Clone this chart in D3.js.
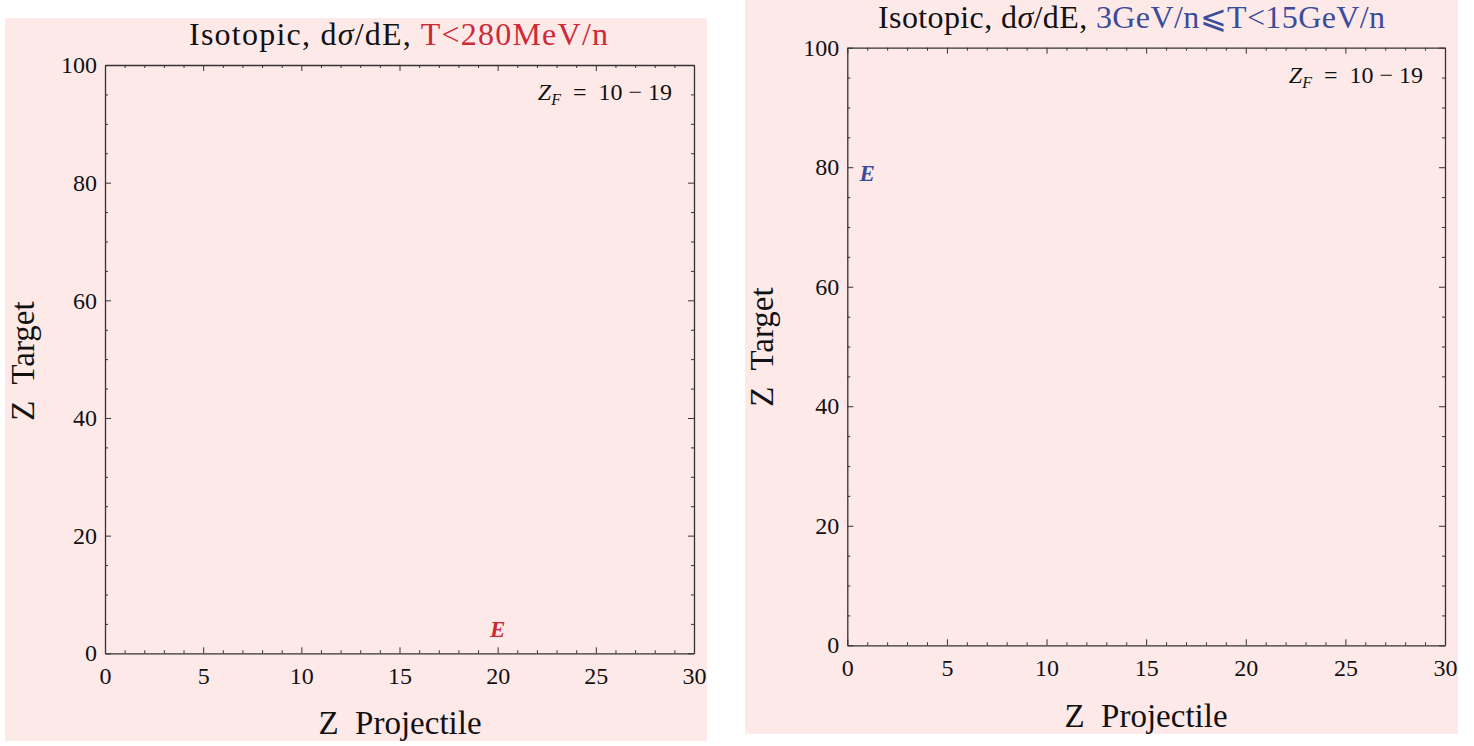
<!DOCTYPE html>
<html><head><meta charset="utf-8">
<script src="https://cdn.jsdelivr.net/npm/d3@7"></script>
<style>body{margin:0;background:#fff}svg{display:block}text{font-family:"Liberation Serif","DejaVu Serif",serif}</style>
</head><body>
<svg id="c" width="1474" height="746"></svg>
<script>
// ---- data ----
const titleParts = ["Isotopic, d", "\u03c3", "/dE, "];
const panelTitles = ["T<280MeV/n", "3GeV/n\u2a7dT<15GeV/n"];
const panelColors = ["#cc2a36", "#3a4c9c"];
const xDomain = [0, 30];
const yDomain = [0, 100];
const xMajorTicks = [0, 5, 10, 15, 20, 25, 30];
const yMajorTicks = [0, 20, 40, 60, 80, 100];
const xMinorStep = 1;
const yMinorStep = 5;
const pointLabels = ["E", "E"];
const pointZProj = [20, 1];
const pointZTarg = [4, 79];
const zfLabel = ["10 \u2212 19", "10 \u2212 19"];
const xLabel = "Z  Projectile";
const yLabel = "Z  Target";

// ---- layout ----
const panels = [
  {bg:[5,18,702,723], plot:[105,65,694,653.3], title:[189,45,419], xlab:[400,734], ylab:[34,361], zf:[672,100]},
  {bg:[745,0,713,734], plot:[847.3,47.7,1445,645.3], title:[878,28,507], xlab:[1146,727], ylab:[773,347], zf:[1423,83]}
];
const svg = d3.select("#c");
const axisColor = "#333";
const FONT = "Liberation Serif";

panels.forEach((p,i)=>{
  const g = svg.append("g");
  g.append("rect").attr("x",p.bg[0]).attr("y",p.bg[1]).attr("width",p.bg[2]).attr("height",p.bg[3]).attr("fill","#fee9e9");
  const [x0,y0,x1,y1] = p.plot;
  const x = d3.scaleLinear().domain(xDomain).range([x0,x1]);
  const y = d3.scaleLinear().domain(yDomain).range([y1,y0]);
  const xMinor = d3.range(xDomain[0], xDomain[1]+0.001, xMinorStep).filter(v=>!xMajorTicks.includes(v));
  const yMinor = d3.range(yDomain[0], yDomain[1]+0.001, yMinorStep).filter(v=>!yMajorTicks.includes(v));
  const styleAxis = (sel)=>{ sel.attr("font-family",FONT); sel.select(".domain").attr("stroke",axisColor).attr("stroke-width",1.3); sel.selectAll("line").attr("stroke",axisColor).attr("stroke-width",1); };
  // bottom
  const gb = g.append("g").attr("transform",`translate(0,${y1})`);
  gb.call(d3.axisBottom(x).tickValues(xMajorTicks).tickSize(-6).tickSizeOuter(0).tickPadding(14).tickFormat(d3.format("d")));
  gb.selectAll(".tick text").attr("font-size",24).attr("fill","#111");
  gb.append("g").call(d3.axisBottom(x).tickValues(xMinor).tickSize(-3).tickFormat("")).call(s=>s.select(".domain").remove());
  styleAxis(gb);
  // top
  const gt = g.append("g").attr("transform",`translate(0,${y0})`);
  gt.call(d3.axisTop(x).tickValues(xMajorTicks).tickSize(-6).tickSizeOuter(0).tickFormat(""));
  gt.append("g").call(d3.axisTop(x).tickValues(xMinor).tickSize(-3).tickFormat("")).call(s=>s.select(".domain").remove());
  styleAxis(gt);
  // left
  const gl = g.append("g").attr("transform",`translate(${x0},0)`);
  gl.call(d3.axisLeft(y).tickValues(yMajorTicks).tickSize(-6).tickSizeOuter(0).tickPadding(8).tickFormat(d3.format("d")));
  gl.selectAll(".tick text").attr("font-size",24).attr("fill","#111");
  gl.append("g").call(d3.axisLeft(y).tickValues(yMinor).tickSize(-3).tickFormat("")).call(s=>s.select(".domain").remove());
  styleAxis(gl);
  // right
  const gr = g.append("g").attr("transform",`translate(${x1},0)`);
  gr.call(d3.axisRight(y).tickValues(yMajorTicks).tickSize(-6).tickSizeOuter(0).tickFormat(""));
  gr.append("g").call(d3.axisRight(y).tickValues(yMinor).tickSize(-3).tickFormat("")).call(s=>s.select(".domain").remove());
  styleAxis(gr);

  // title
  const t = g.append("text").attr("x",p.title[0]).attr("y",p.title[1]).attr("text-anchor","start").attr("font-size",32).attr("fill","#111")
    .attr("textLength",p.title[2]).attr("lengthAdjust","spacing").style("white-space","pre");
  t.append("tspan").text(titleParts[0]);
  t.append("tspan").attr("font-style","italic").text(titleParts[1]);
  t.append("tspan").text(titleParts[2]);
  t.append("tspan").attr("fill",panelColors[i]).text(panelTitles[i]);
  // axis labels
  g.append("text").attr("x",p.xlab[0]).attr("y",p.xlab[1]).attr("text-anchor","middle").attr("font-size",33).attr("fill","#111").style("white-space","pre").text(xLabel);
  g.append("text").attr("transform",`translate(${p.ylab[0]},${p.ylab[1]}) rotate(-90)`).attr("text-anchor","middle").attr("font-size",33).attr("fill","#111").style("white-space","pre").text(yLabel);
  // Z_F label
  const zf = g.append("text").attr("x",p.zf[0]).attr("y",p.zf[1]).attr("text-anchor","end").attr("font-size",24).attr("fill","#111").style("white-space","pre");
  zf.append("tspan").attr("font-style","italic").text("Z");
  zf.append("tspan").attr("font-style","italic").attr("font-size",16).attr("dy",5).text("F");
  zf.append("tspan").attr("dy",-5).text("  =  " + zfLabel[i]);
  // point label
  g.append("text").attr("x",x(pointZProj[i])).attr("y",y(pointZTarg[i])).attr("text-anchor","middle").attr("dominant-baseline","central")
    .attr("font-size",23).attr("font-style","italic").attr("font-weight","bold").attr("fill",panelColors[i]).text(pointLabels[i]);
});
</script>
</body></html>
